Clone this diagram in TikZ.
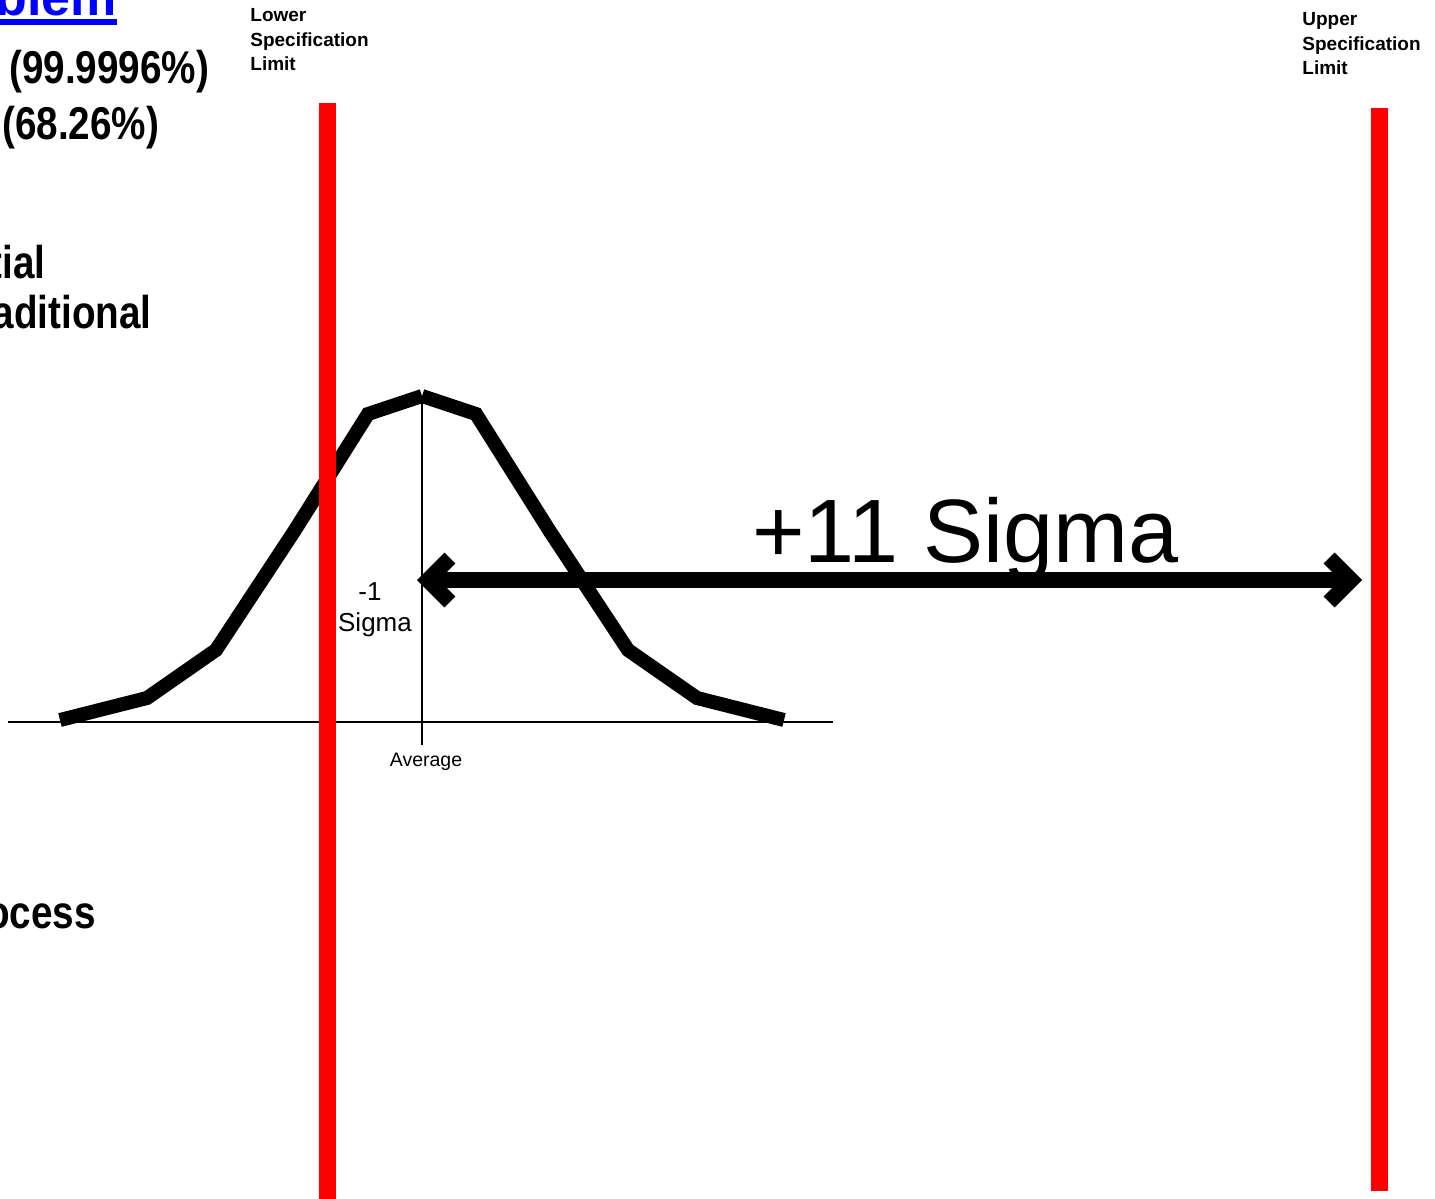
\documentclass[tikz,border=0pt]{standalone}
\usepackage{fontspec}
\setmainfont{Liberation Sans}
\newfontfamily\narrowfont{Liberation Sans}[FakeStretch=0.84]
\usetikzlibrary{arrows.meta}

\begin{document}
\begin{tikzpicture}[
    x=0.5pt, y=-0.5pt,
    spec/.style={draw=red, line width=8.5pt},
    bell/.style={line width=7pt, line cap=butt, line join=miter},
    axis/.style={line width=1pt},
    barb/.tip={Straight Barb[length=11pt, width=22pt, line cap=butt, line join=miter]},
    arr/.style={barb-barb, line width=7.75pt},
    limit/.style={font=\bfseries\fontsize{9.5}{12.25}\selectfont, align=left, anchor=north west, inner sep=0pt},
    big/.style={font=\narrowfont\bfseries\fontsize{23}{28}\selectfont, inner sep=0pt},
    small/.style={font=\fontsize{13}{15}\selectfont, inner sep=0pt, anchor=base}
]
\useasboundingbox (0,0) rectangle (1435,1199);
\clip (0,0) rectangle (1435,1199);

% text of the slide, cut off at its left edge
\node[inner sep=0pt, anchor=base east, text=blue, font=\bfseries\fontsize{26}{30}\selectfont] (blem) at (117,16) {blem};
\draw[blue, line width=3pt] ([yshift=-3pt]blem.base west) -- ([yshift=-3pt]blem.base east);
\node[big, anchor=base west] (pctA) at (9,83) {(99.9996\%)};
\node[big, anchor=base west] (pctB) at (2,139) {(68.26\%)};
\node[big, anchor=base east] (tial) at (46,278) {tial};
\node[big, anchor=base east] (trad) at (152,328) {aditional};
\node[big, anchor=base east] (proc) at (96,928) {ocess};

% distribution
\draw[axis] (8,722) -- (833,722);
\draw[axis] (422,396) -- (422,745);
\draw[bell] (60,720) -- (147,698) -- (216,650) -- (295,530) -- (368,414) -- (422,396);
\draw[bell] (784,720) -- (697,698) -- (628,650) -- (549,530) -- (476,414) -- (422,396);

% specification limits
\coordinate (LSLtop) at (327.5,103);
\coordinate (LSLbot) at (327.5,1199);
\coordinate (USLtop) at (1379,108);
\coordinate (USLbot) at (1379,1191);
\draw[spec] (LSLtop) -- (LSLbot);
\draw[spec] (USLtop) -- (USLbot);
\node[limit] (lsl) at (250,8.5) {Lower\\Specification\\Limit};
\node[limit] (usl) at (1302,12.5) {Upper\\Specification\\Limit};

% sigma distances
\coordinate (lowtip) at (417,580);
\coordinate (uptip) at (1362,580);
\draw[arr] (lowtip) -- (uptip);
\node[small] (minus) at (370,600) {-1};
\node[small] (sigword) at (375,631) {Sigma};
\node[small, font=\fontsize{9.75}{12}\selectfont] (avg) at (426,766) {Average};
\node[small, anchor=base west, font=\fontsize{45}{50}\selectfont] (plus) at (752,562) {+11 Sigma};

\end{tikzpicture}
\end{document}
